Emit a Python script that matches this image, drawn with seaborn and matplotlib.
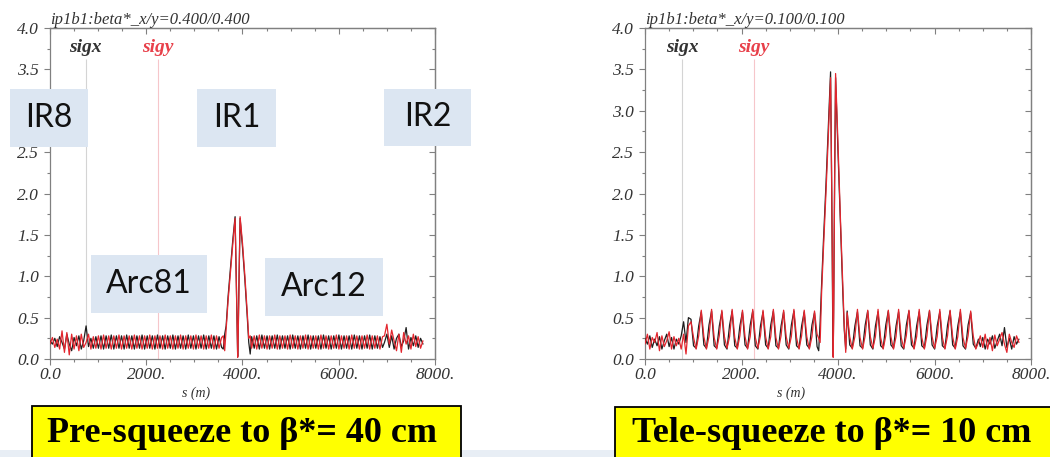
"""
plot.py
Beam size along the ring (sigx / sigy) for the pre-squeeze and tele-squeeze optics.
"""

import matplotlib
matplotlib.use('Agg')
import matplotlib.pyplot as plt
from matplotlib.patches import Rectangle
from matplotlib.ticker import MultipleLocator
import pandas as pd
import seaborn as sns

W, H = 1050, 457

# ---------------------------------------------------------------- data
# longitudinal position s (m): IR8 | Arc81 | IR1 | Arc12 | IR2
s_m = [
    0, 50, 100, 150, 200, 250, 300, 350, 400, 450, 500, 550, 600, 650, 700, 750, 800, 850, 900,
    953, 1006, 1060, 1113, 1166, 1220, 1273, 1326, 1380, 1433,
    1486, 1540, 1593, 1646, 1700, 1753, 1806, 1860, 1913, 1966,
    2020, 2073, 2126, 2180, 2233, 2286, 2340, 2393, 2446, 2500,
    2553, 2606, 2660, 2713, 2766, 2820, 2873, 2926, 2980, 3033,
    3086, 3140, 3193, 3246, 3300, 3353, 3406, 3460, 3513, 3566,
    3600, 3630, 3660, 3700, 3750, 3800, 3846, 3870, 3890, 3900, 3910, 3930, 3950, 4000, 4050, 4100, 4130, 4160,
    4190, 4243, 4296, 4350, 4403, 4456, 4510, 4563, 4616, 4670,
    4723, 4776, 4830, 4883, 4936, 4990, 5043, 5096, 5150, 5203,
    5256, 5310, 5363, 5416, 5470, 5523, 5576, 5630, 5683, 5736,
    5790, 5843, 5896, 5950, 6003, 6056, 6110, 6163, 6216, 6270,
    6323, 6376, 6430, 6483, 6536, 6590, 6643, 6696, 6750, 6803,
    6856, 6910,
    6950, 7000, 7050, 7100, 7150, 7200, 7250, 7300, 7350, 7400, 7450, 7500, 7550, 7600, 7650, 7700, 7750,
]

# beta* = 40 cm
sigx_40 = [
    0.22, 0.18, 0.25, 0.15, 0.27, 0.20, 0.12, 0.30, 0.18, 0.10, 0.26, 0.16, 0.28, 0.12, 0.22, 0.40, 0.15, 0.25, 0.13,
    0.27, 0.13, 0.28, 0.12, 0.28, 0.13, 0.29, 0.12, 0.28, 0.13,
    0.28, 0.12, 0.29, 0.13, 0.28, 0.12, 0.28, 0.13, 0.29, 0.12,
    0.28, 0.13, 0.28, 0.12, 0.29, 0.13, 0.28, 0.12, 0.28, 0.13,
    0.29, 0.12, 0.28, 0.13, 0.28, 0.12, 0.29, 0.13, 0.28, 0.12,
    0.28, 0.13, 0.29, 0.12, 0.28, 0.13, 0.28, 0.12, 0.27, 0.14,
    0.12, 0.30, 0.40, 0.75, 1.10, 1.45, 1.72, 0.95, 0.25, 0.03, 0.30, 1.05, 1.70, 1.35, 0.95, 0.50, 0.20, 0.06,
    0.27, 0.13, 0.28, 0.12, 0.29, 0.13, 0.28, 0.12, 0.28, 0.13,
    0.29, 0.12, 0.28, 0.13, 0.28, 0.12, 0.29, 0.13, 0.28, 0.12,
    0.28, 0.13, 0.29, 0.12, 0.28, 0.13, 0.28, 0.12, 0.29, 0.13,
    0.28, 0.12, 0.28, 0.13, 0.29, 0.12, 0.28, 0.13, 0.28, 0.12,
    0.29, 0.13, 0.28, 0.12, 0.28, 0.13, 0.29, 0.12, 0.28, 0.13,
    0.27, 0.14,
    0.20, 0.30, 0.14, 0.28, 0.12, 0.25, 0.30, 0.15, 0.22, 0.38, 0.12, 0.26, 0.16, 0.28, 0.14, 0.25, 0.18,
]
sigy_40 = [
    0.18, 0.26, 0.14, 0.24, 0.12, 0.34, 0.08, 0.32, 0.05, 0.30, 0.12, 0.28, 0.10, 0.30, 0.14, 0.20, 0.30, 0.12, 0.27,
    0.13, 0.28, 0.12, 0.29, 0.13, 0.28, 0.12, 0.28, 0.13, 0.29,
    0.12, 0.28, 0.13, 0.28, 0.12, 0.29, 0.13, 0.28, 0.12, 0.28,
    0.13, 0.29, 0.12, 0.28, 0.13, 0.28, 0.12, 0.29, 0.13, 0.28,
    0.12, 0.28, 0.13, 0.29, 0.12, 0.28, 0.13, 0.28, 0.12, 0.29,
    0.13, 0.28, 0.12, 0.28, 0.13, 0.29, 0.12, 0.28, 0.13, 0.26,
    0.28, 0.10, 0.35, 0.70, 1.05, 1.40, 1.70, 1.00, 0.30, 0.02, 0.25, 1.00, 1.72, 1.40, 1.00, 0.55, 0.25, 0.28,
    0.13, 0.28, 0.12, 0.29, 0.13, 0.28, 0.12, 0.28, 0.13, 0.29,
    0.12, 0.28, 0.13, 0.28, 0.12, 0.29, 0.13, 0.28, 0.12, 0.28,
    0.13, 0.29, 0.12, 0.28, 0.13, 0.28, 0.12, 0.29, 0.13, 0.28,
    0.12, 0.28, 0.13, 0.29, 0.12, 0.28, 0.13, 0.28, 0.12, 0.29,
    0.13, 0.28, 0.12, 0.28, 0.13, 0.29, 0.12, 0.28, 0.13, 0.28,
    0.12, 0.27,
    0.28, 0.42, 0.18, 0.35, 0.22, 0.10, 0.30, 0.08, 0.32, 0.18, 0.28, 0.12, 0.30, 0.15, 0.27, 0.13, 0.22,
]

# beta* = 10 cm
sigx_10 = [
    0.25, 0.18, 0.28, 0.14, 0.24, 0.16, 0.27, 0.12, 0.22, 0.30, 0.15, 0.26, 0.12, 0.24, 0.18, 0.28, 0.45, 0.20, 0.50,
    0.48, 0.16, 0.13, 0.40, 0.57, 0.17, 0.13, 0.41, 0.58, 0.16,
    0.13, 0.40, 0.57, 0.17, 0.12, 0.41, 0.58, 0.16, 0.13, 0.40,
    0.57, 0.17, 0.13, 0.41, 0.58, 0.16, 0.12, 0.40, 0.57, 0.17,
    0.13, 0.41, 0.58, 0.16, 0.13, 0.40, 0.57, 0.17, 0.12, 0.41,
    0.58, 0.16, 0.13, 0.40, 0.57, 0.17, 0.13, 0.41, 0.56, 0.15,
    0.10, 0.45, 0.90, 1.45, 2.10, 2.80, 3.47, 2.00, 0.50, 0.03, 0.60, 2.20, 3.40, 2.50, 1.65, 0.80, 0.35, 0.12,
    0.58, 0.17, 0.13, 0.40, 0.57, 0.16, 0.13, 0.41, 0.58, 0.17,
    0.12, 0.40, 0.57, 0.16, 0.13, 0.41, 0.58, 0.17, 0.13, 0.40,
    0.57, 0.16, 0.12, 0.41, 0.58, 0.17, 0.13, 0.40, 0.57, 0.16,
    0.13, 0.41, 0.58, 0.17, 0.12, 0.40, 0.57, 0.16, 0.13, 0.41,
    0.58, 0.17, 0.13, 0.40, 0.57, 0.16, 0.12, 0.41, 0.56, 0.18,
    0.13, 0.24,
    0.15, 0.26, 0.12, 0.24, 0.18, 0.28, 0.13, 0.22, 0.30, 0.16, 0.38, 0.14, 0.25, 0.12, 0.27, 0.18, 0.24,
]
sigy_10 = [
    0.18, 0.30, 0.12, 0.26, 0.20, 0.32, 0.10, 0.28, 0.15, 0.22, 0.33, 0.12, 0.27, 0.16, 0.25, 0.12, 0.30, 0.06, 0.40,
    0.45, 0.26, 0.12, 0.28, 0.59, 0.27, 0.12, 0.27, 0.60, 0.26,
    0.12, 0.28, 0.59, 0.27, 0.13, 0.27, 0.60, 0.26, 0.12, 0.28,
    0.59, 0.27, 0.12, 0.27, 0.60, 0.26, 0.13, 0.28, 0.59, 0.27,
    0.12, 0.27, 0.60, 0.26, 0.12, 0.28, 0.59, 0.27, 0.13, 0.27,
    0.60, 0.26, 0.12, 0.28, 0.59, 0.27, 0.12, 0.27, 0.58, 0.30,
    0.25, 0.20, 0.80, 1.35, 2.00, 2.70, 3.40, 2.10, 0.60, 0.02, 0.50, 2.10, 3.45, 2.60, 1.70, 0.90, 0.40, 0.08,
    0.56, 0.27, 0.12, 0.27, 0.60, 0.26, 0.12, 0.28, 0.59, 0.27,
    0.13, 0.27, 0.60, 0.26, 0.12, 0.28, 0.59, 0.27, 0.12, 0.27,
    0.60, 0.26, 0.13, 0.28, 0.59, 0.27, 0.12, 0.27, 0.60, 0.26,
    0.12, 0.28, 0.59, 0.27, 0.13, 0.27, 0.60, 0.26, 0.12, 0.28,
    0.59, 0.27, 0.12, 0.27, 0.60, 0.26, 0.13, 0.28, 0.58, 0.28,
    0.12, 0.20,
    0.28, 0.14, 0.30, 0.12, 0.26, 0.10, 0.29, 0.16, 0.24, 0.32, 0.18, 0.08, 0.30, 0.20, 0.14, 0.28, 0.20,
]

titles = ['ip1b1:beta*_x/y=0.400/0.400', 'ip1b1:beta*_x/y=0.100/0.100']
captions = ['Pre-squeeze to \u03b2*= 40 cm', 'Tele-squeeze to \u03b2*= 10 cm']
legend_s = [[738, 2234], [767, 2259]]   # s of the sigx / sigy legend markers
y_ticks = [0.0, 0.5, 1.0, 1.5, 2.0, 2.5, 3.0, 3.5, 4.0]
x_ticks = [0, 2000, 4000, 6000, 8000]
x_tick_labels = ['0.0', '2000.', '4000.', '6000.', '8000.']
region_tags = ['IR8', 'IR1', 'IR2', 'Arc81', 'Arc12']

for name, arr in [('sigx_40', sigx_40), ('sigy_40', sigy_40), ('sigx_10', sigx_10), ('sigy_10', sigy_10)]:
    assert len(arr) == len(s_m), (name, len(arr), len(s_m))

# ---------------------------------------------------------------- style
sns.set_style('ticks')
plt.rcParams['font.family'] = ['Liberation Serif', 'DejaVu Serif']

BLACK = '#1e1e1e'
RED = '#e3262e'
FRAME = '#808080'
TAG_BG = '#dce6f2'


def fig_box(x0, y0, x1, y1):
    """pixel box (top-left origin) -> figure fraction rect"""
    return (x0 / W, 1 - y1 / H, (x1 - x0) / W, (y1 - y0) / H)


fig = plt.figure(figsize=(W / 100, H / 100), dpi=100)
fig.patch.set_facecolor('white')

axes_px = [(50, 28, 435, 359), (645, 28, 1031, 359)]
series = [(sigx_40, sigy_40), (sigx_10, sigy_10)]

for i, (box, (sx, sy)) in enumerate(zip(axes_px, series)):
    ax = fig.add_axes(fig_box(*box))
    df = pd.DataFrame({
        's': s_m * 2,
        'sigma': sx + sy,
        'plane': ['sigx'] * len(s_m) + ['sigy'] * len(s_m),
    })
    # legend markers (faint vertical lines under the names)
    ax.vlines(legend_s[i][0], 0, 3.63, color='#d4d4d4', lw=0.8, zorder=1)
    ax.vlines(legend_s[i][1], 0, 3.63, color='#f6c6ca', lw=0.8, zorder=1)
    sns.lineplot(data=df, x='s', y='sigma', hue='plane', hue_order=['sigx', 'sigy'],
                 palette={'sigx': BLACK, 'sigy': RED}, estimator=None, legend=False,
                 linewidth=0.9, ax=ax, zorder=3)

    ax.set_xlim(0, 8000)
    ax.set_ylim(0, 4.0)
    ax.set_xticks(x_ticks, x_tick_labels, fontstyle='italic')
    ax.set_yticks(y_ticks, [f'{v:.1f}' for v in y_ticks], fontstyle='italic')
    ax.xaxis.set_minor_locator(MultipleLocator(500))
    ax.yaxis.set_minor_locator(MultipleLocator(0.25))
    ax.tick_params(which='both', direction='out', color=FRAME, width=0.8,
                   labelsize=12.5, labelcolor='#333333')
    ax.tick_params(which='major', length=4)
    ax.tick_params(which='minor', length=2.2)
    ax.tick_params(axis='x', pad=1.5)
    ax.tick_params(axis='y', pad=4)

    # inward ticks on the top and right frame
    top = ax.secondary_xaxis('top')
    top.xaxis.set_major_locator(MultipleLocator(2000))
    top.xaxis.set_minor_locator(MultipleLocator(500))
    top.tick_params(which='both', direction='in', color=FRAME, width=0.8, labeltop=False)
    top.tick_params(which='major', length=4)
    top.tick_params(which='minor', length=2.2)
    right = ax.secondary_yaxis('right')
    right.yaxis.set_major_locator(MultipleLocator(0.5))
    right.yaxis.set_minor_locator(MultipleLocator(0.25))
    right.tick_params(which='both', direction='in', color=FRAME, width=0.8, labelright=False)
    right.tick_params(which='major', length=4)
    right.tick_params(which='minor', length=2.2)
    for sec in (top, right):
        for sp in sec.spines.values():
            sp.set_color(FRAME)
            sp.set_linewidth(0.9)

    for sp in ax.spines.values():
        sp.set_visible(True)
        sp.set_color(FRAME)
        sp.set_linewidth(0.9)

    ax.set_xlabel('s (m)', fontstyle='italic', fontsize=10, color='#333333')
    ax.xaxis.set_label_coords(0.379, -0.082)
    ax.set_ylabel('')
    ax.set_title(titles[i], loc='left', fontstyle='italic', fontsize=12, color='#333333', pad=3)

    ax.text(legend_s[i][0], 3.77, 'sigx', ha='center', va='center', fontsize=14,
            fontstyle='italic', fontweight='bold', color='#333333')
    ax.text(legend_s[i][1], 3.77, 'sigy', ha='center', va='center', fontsize=14,
            fontstyle='italic', fontweight='bold', color='#e8404a')

# slide decorations: bottom band, region tags, yellow captions
fig.add_artist(Rectangle(fig_box(0, 448, W, H + 5)[:2], 1, 12 / H, transform=fig.transFigure,
                         facecolor='#e8eef5', edgecolor='none', zorder=1))

tag_px = [(10, 89, 88, 147), (197, 89, 276, 147), (384, 89, 471, 146),
          (91, 255, 207, 313), (265, 258, 383, 316)]
for tag, (x0, y0, x1, y1) in zip(region_tags, tag_px):
    r = fig_box(x0, y0, x1, y1)
    fig.add_artist(Rectangle(r[:2], r[2], r[3], transform=fig.transFigure,
                             facecolor=TAG_BG, edgecolor='none', zorder=10))
    fig.text((x0 + x1) / 2 / W, 1 - (y0 + y1) / 2 / H, tag, ha='center', va='center',
             fontsize=23, family='Lato', color='#111111', zorder=11)

caption_px = [(32, 406, 461, 470), (615, 407, 1060, 470)]
caption_center = [(242, 433), (832, 433)]
for cap, (x0, y0, x1, y1), (cx, cy) in zip(captions, caption_px, caption_center):
    r = fig_box(x0, y0, x1, y1)
    fig.add_artist(Rectangle(r[:2], r[2], r[3], transform=fig.transFigure,
                             facecolor='#ffff00', edgecolor='black', linewidth=1.3, zorder=12))
    fig.text(cx / W, 1 - cy / H, cap, ha='center', va='center', fontsize=26,
             fontweight='bold', family='Liberation Serif', color='black', zorder=13)

fig.savefig('out.png', dpi=100)
plt.close(fig)
print('Saved: out.png')
